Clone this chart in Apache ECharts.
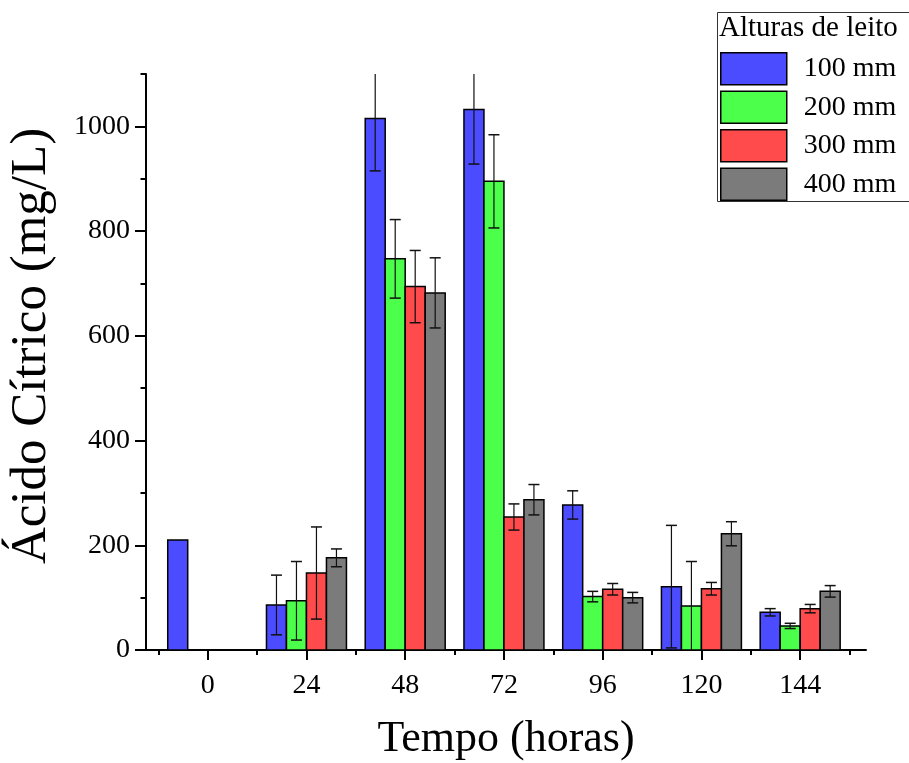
<!DOCTYPE html>
<html><head><meta charset="utf-8">
<script src="https://cdn.jsdelivr.net/npm/echarts@6/dist/echarts.min.js"></script>
<style>html,body{margin:0;padding:0;background:#fff}#c{width:909px;height:763px}</style>
</head><body><div id="c"></div>
<script>
// ---- data ----
const hours = [0, 24, 48, 72, 96, 120, 144];
const xTickLabels = [0, 24, 48, 72, 96, 120, 144];
const xMinorTicks = [-12, 12, 36, 60, 84, 108, 132, 156];
const yTickLabels = [0, 200, 400, 600, 800, 1000];
const yMinorTicks = [100, 300, 500, 700, 900, 1100];
const seriesNames = ['100 mm', '200 mm', '300 mm', '400 mm'];
const v100 = [210, 86, 1015, 1032, 277, 121, 72];
const e100 = [0, 57, 100, 104, 27, 117, 7];
const v200 = [null, 94, 747, 895, 102, 84, 46];
const e200 = [null, 75, 75, 89, 10, 85, 5];
const v300 = [null, 147, 694, 254, 116, 117, 79];
const e300 = [null, 88, 69, 25, 11, 12, 8];
const v400 = [null, 176, 682, 287, 100, 222, 112];
const e400 = [null, 17, 67, 29, 10, 23, 11];
const legendTitle = 'Alturas de leito';
const xTitle = 'Tempo (horas)';
const yTitle = 'Ácido Cítrico (mg/L)';

// ---- style ----
const colors = ['#4B4BFF', '#4BFF4B', '#FF4B4B', '#7B7B7B'];
const FONT = '"Liberation Serif", "Times New Roman", serif';
const X_MIN = -15, X_MAX = 160, Y_MIN = 0, Y_MAX = 1100;
const BAR_W = 4.86; // in hours
const values = [v100, v200, v300, v400];
const errors = [e100, e200, e300, e400];

function makeRender(idx) {
  return function (params, api) {
    const t = api.value(0), v = api.value(1), e = api.value(2);
    const bw = api.size([BAR_W, 0])[0];
    const p0 = api.coord([t, 0]);
    const p1 = api.coord([t, v]);
    const x = p0[0] + (idx - 2) * bw;
    const children = [{
      type: 'rect',
      shape: { x: x, y: p1[1], width: bw, height: p0[1] - p1[1] },
      style: { fill: colors[idx], stroke: '#000', lineWidth: 1.5 }
    }];
    if (e > 0) {
      const cx = x + bw / 2;
      const hi = v + e, lo = v - e;
      const yTop = api.coord([t, Math.min(hi, Y_MAX)])[1];
      const yBot = api.coord([t, Math.max(lo, 0)])[1];
      const cap = 5.5;
      children.push({ type: 'line', shape: { x1: cx, y1: yTop, x2: cx, y2: yBot }, style: { stroke: '#111', lineWidth: 1.2 } });
      if (hi <= Y_MAX) children.push({ type: 'line', shape: { x1: cx - cap, y1: yTop, x2: cx + cap, y2: yTop }, style: { stroke: '#111', lineWidth: 1.5 } });
      if (lo >= 0) children.push({ type: 'line', shape: { x1: cx - cap, y1: yBot, x2: cx + cap, y2: yBot }, style: { stroke: '#111', lineWidth: 1.5 } });
    }
    return { type: 'group', children: children };
  };
}

const series = seriesNames.map((name, idx) => ({
  name: name,
  type: 'custom',
  xAxisIndex: 0,
  yAxisIndex: 0,
  itemStyle: { color: colors[idx] },
  encode: { x: 0, y: 1 },
  renderItem: makeRender(idx),
  data: hours.map((t, i) => [t, values[idx][i], errors[idx][i]]).filter(d => d[1] != null),
  z: 2 + idx
}));

const axisLineStyle = { color: '#000', width: 2 };
const plain = v => String(v);

const option = {
  animation: false,
  backgroundColor: '#fff',
  grid: { left: 146, right: 43, top: 74, bottom: 113, containLabel: false, outerBoundsMode: 'none' },
  xAxis: [{
    type: 'value', min: X_MIN, max: X_MAX, position: 'bottom', offset: 0,
    axisLine: { show: true, onZero: false, lineStyle: axisLineStyle },
    axisTick: { show: true, length: 10, lineStyle: { color: '#000', width: 2 }, customValues: xTickLabels },
    axisLabel: { customValues: xTickLabels, formatter: plain, fontFamily: FONT, fontSize: 28, color: '#000', margin: 22 },
    splitLine: { show: false },
    name: xTitle, nameLocation: 'middle', nameGap: 67,
    nameTextStyle: { fontFamily: FONT, fontSize: 44, color: '#000' }
  }, {
    type: 'value', min: X_MIN, max: X_MAX, position: 'bottom', offset: 0,
    axisLine: { show: false, onZero: false },
    axisTick: { show: true, length: 5, lineStyle: { color: '#000', width: 2 }, customValues: xMinorTicks },
    axisLabel: { show: false },
    splitLine: { show: false }
  }],
  yAxis: [{
    type: 'value', min: Y_MIN, max: Y_MAX, position: 'left', offset: 0,
    axisLine: { show: true, onZero: false, lineStyle: axisLineStyle },
    axisTick: { show: true, length: 11, lineStyle: { color: '#000', width: 2 }, customValues: yTickLabels },
    axisLabel: { customValues: yTickLabels, formatter: plain, fontFamily: FONT, fontSize: 28, color: '#000', margin: 16 },
    splitLine: { show: false }
  }, {
    type: 'value', min: Y_MIN, max: Y_MAX, position: 'left', offset: 0,
    axisLine: { show: false, onZero: false },
    axisTick: { show: true, length: 5.5, lineStyle: { color: '#000', width: 2 }, customValues: yMinorTicks },
    axisLabel: { show: false },
    splitLine: { show: false }
  }],
  legend: {
    orient: 'vertical', left: 715, top: 47,
    itemWidth: 66, itemHeight: 32, itemGap: 5,
    selectedMode: false,
    textStyle: { fontFamily: FONT, fontSize: 28, color: '#000', padding: [0, 0, 0, 12] },
    data: seriesNames.map((n, i) => ({
      name: n, icon: 'rect',
      itemStyle: { color: colors[i], borderColor: '#000', borderWidth: 1.5 }
    }))
  },
  graphic: [
    { type: 'rect', left: 715, top: 10, shape: { x: 0, y: 0, width: 220, height: 189 },
      style: { fill: 'none', stroke: '#333', lineWidth: 1 }, z: 0 },
    { type: 'text', left: 719, top: 14,
      style: { text: legendTitle, font: '29px ' + FONT, fill: '#000' } },
    { type: 'text', x: 32, y: 346, rotation: Math.PI / 2,
      style: { text: yTitle, font: '51px ' + FONT, fill: '#000', align: 'center', verticalAlign: 'middle' } }
  ],
  series: series
};

const chart = echarts.init(document.getElementById('c'), null, { renderer: 'canvas' });
chart.setOption(option);
</script>
</body></html>
